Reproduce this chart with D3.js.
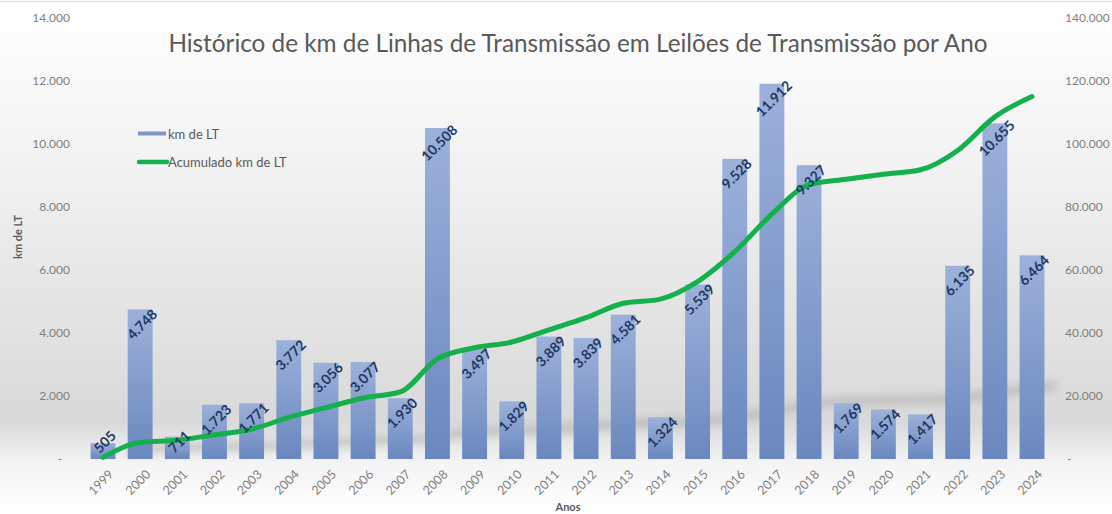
<!DOCTYPE html>
<html>
<head>
<meta charset="utf-8">
<script src="https://d3js.org/d3.v7.min.js"></script>
<style>
  body { margin: 0; background: #fff; }
  svg text { font-family: Lato, "Open Sans", sans-serif; }
</style>
</head>
<body>
<div id="chart"></div>
<script>
// data
var anos = ["1999","2000","2001","2002","2003","2004","2005","2006","2007","2008","2009","2010","2011","2012","2013","2014","2015","2016","2017","2018","2019","2020","2021","2022","2023","2024"];
var kmLT = [505, 4748, 711, 1723, 1771, 3772, 3056, 3077, 1930, 10508, 3497, 1829, 3889, 3839, 4581, 1324, 5539, 9528, 11912, 9327, 1769, 1574, 1417, 6135, 10655, 6464];
var acumulado = [505, 5253, 5964, 7687, 9458, 13230, 16286, 19363, 21293, 31801, 35298, 37127, 41016, 44855, 49436, 50760, 56299, 65827, 77739, 87066, 88835, 90409, 91826, 97961, 108616, 115080];
var ticksEsq = [0, 2000, 4000, 6000, 8000, 10000, 12000, 14000];
var ticksDir = [0, 20000, 40000, 60000, 80000, 100000, 120000, 140000];

var W = 1112, H = 514;
var x0 = 84.4, x1 = 1050.6, yBase = 459, yTop = 18;

var br = d3.formatLocale({decimal: ",", thousands: ".", grouping: [3], currency: ["R$", ""]});
var fmt = br.format(",d");
function tickFmt(d) { return d === 0 ? "-" : fmt(d); }

var svg = d3.select("#chart").append("svg")
    .attr("width", W).attr("height", H);

var defs = svg.append("defs");
var bg = defs.append("linearGradient").attr("id", "bg")
    .attr("x1", 0).attr("y1", 0).attr("x2", 0).attr("y2", 1);
bg.append("stop").attr("offset", "0%").attr("stop-color", "#ffffff");
bg.append("stop").attr("offset", "30%").attr("stop-color", "#f3f3f3");
bg.append("stop").attr("offset", "82%").attr("stop-color", "#d9d9d9");
bg.append("stop").attr("offset", "90%").attr("stop-color", "#f4f4f4");
bg.append("stop").attr("offset", "100%").attr("stop-color", "#ffffff");

var barGrad = defs.append("linearGradient").attr("id", "barGrad")
    .attr("x1", 0).attr("y1", 0).attr("x2", 0).attr("y2", 1);
barGrad.append("stop").attr("offset", "0%").attr("stop-color", "#9cb1da");
barGrad.append("stop").attr("offset", "100%").attr("stop-color", "#6a87bf");

defs.append("filter").attr("id", "blur")
    .attr("x", "-20%").attr("y", "-50%").attr("width", "140%").attr("height", "200%")
  .append("feGaussianBlur").attr("stdDeviation", 4);

svg.append("rect").attr("width", W).attr("height", H).attr("fill", "url(#bg)");
svg.append("line").attr("x1", 0).attr("x2", W).attr("y1", 1.5).attr("y2", 1.5)
    .attr("stroke", "#d9d9d9");

var x = d3.scaleBand().domain(anos).range([x0, x1]).paddingInner(0.33).paddingOuter(0.165);
var y = d3.scaleLinear().domain([0, 14000]).range([yBase, yTop]);
var y2 = d3.scaleLinear().domain([0, 140000]).range([yBase, yTop]);

// title
svg.append("text")
    .attr("x", 578).attr("y", 52)
    .attr("text-anchor", "middle")
    .attr("font-size", 24.3)
    .attr("fill", "#595959")
    .text("Histórico de km de Linhas de Transmissão em Leilões de Transmissão por Ano");

// left axis
var gL = svg.append("g").attr("transform", "translate(74,0)")
    .call(d3.axisLeft(y).tickValues(ticksEsq).tickFormat(tickFmt).tickSize(0).tickPadding(4));
gL.select(".domain").remove();
gL.selectAll("text").attr("font-size", 12).attr("fill", "#7f7f7f")
    .attr("dx", function(d) { return d === 0 ? -8 : 0; });

// right axis
var gR = svg.append("g").attr("transform", "translate(1061,0)")
    .call(d3.axisRight(y2).tickValues(ticksDir).tickFormat(tickFmt).tickSize(0).tickPadding(4));
gR.select(".domain").remove();
gR.selectAll("text").attr("font-size", 12).attr("fill", "#7f7f7f")
    .attr("dx", function(d) { return d === 0 ? 2 : 0; });

// line shadow
var linha = d3.line()
    .x(function(d, i) { return x(anos[i]) + x.bandwidth() / 2; })
    .y(function(d) { return y2(d); })
    .curve(d3.curveMonotoneX);

svg.append("path")
    .datum(acumulado)
    .attr("d", d3.line()
        .x(function(d, i) { return x(anos[i]) + x.bandwidth() / 2 + 25; })
        .y(function(d) { return yBase - (yBase - y2(d)) * 0.18 - 8; })
        .curve(d3.curveMonotoneX))
    .attr("fill", "none")
    .attr("stroke", "#8c8c8c")
    .attr("stroke-width", 8)
    .attr("opacity", 0.4)
    .attr("filter", "url(#blur)");

// bars
svg.selectAll(".bar")
    .data(kmLT)
    .enter().append("rect")
    .attr("class", "bar")
    .attr("x", function(d, i) { return x(anos[i]); })
    .attr("y", function(d) { return y(d); })
    .attr("width", x.bandwidth())
    .attr("height", function(d) { return yBase - y(d); })
    .attr("fill", "url(#barGrad)");

// cumulative line
svg.append("path")
    .datum(acumulado)
    .attr("d", linha)
    .attr("fill", "none")
    .attr("stroke", "#13b04b")
    .attr("stroke-width", 5)
    .attr("stroke-linecap", "round");

// bar labels
svg.selectAll(".lbl")
    .data(kmLT)
    .enter().append("text")
    .attr("class", "lbl")
    .attr("transform", function(d, i) {
        var cx = x(anos[i]) + x.bandwidth() / 2 + 2;
        var cy = Math.min(y(d) + 15, yBase - 17);
        return "translate(" + cx + "," + cy + ") rotate(-45)";
    })
    .attr("text-anchor", "middle")
    .attr("dy", "0.35em")
    .attr("font-size", 14)
    .attr("font-weight", "bold")
    .attr("fill", "#1f3864")
    .text(function(d) { return fmt(d); });

// x tick labels
svg.selectAll(".xt")
    .data(anos)
    .enter().append("text")
    .attr("class", "xt")
    .attr("transform", function(d) {
        return "translate(" + (x(d) + x.bandwidth() / 2 + 5) + ",469) rotate(-45)";
    })
    .attr("text-anchor", "end")
    .attr("dy", "0.7em")
    .attr("font-size", 12.5)
    .attr("fill", "#7f7f7f")
    .text(function(d) { return d; });

// axis titles
svg.append("text")
    .attr("x", 568).attr("y", 511)
    .attr("text-anchor", "middle")
    .attr("font-size", 11).attr("font-weight", "bold").attr("fill", "#595959")
    .text("Anos");
svg.append("text")
    .attr("transform", "translate(22,237) rotate(-90)")
    .attr("text-anchor", "middle")
    .attr("font-size", 11).attr("font-weight", "bold").attr("fill", "#595959")
    .text("km de LT");

// legend
var leg = svg.append("g");
leg.append("rect").attr("x", 138).attr("y", 131.5).attr("width", 28).attr("height", 4)
    .attr("fill", "#7d97c9");
leg.append("text").attr("x", 168).attr("y", 134).attr("dy", "0.35em")
    .attr("font-size", 13).attr("fill", "#595959").text("km de LT");
leg.append("line").attr("x1", 139).attr("x2", 167).attr("y1", 162).attr("y2", 162)
    .attr("stroke", "#13b04b").attr("stroke-width", 4.5).attr("stroke-linecap", "round");
leg.append("text").attr("x", 168).attr("y", 162).attr("dy", "0.35em")
    .attr("font-size", 13).attr("fill", "#595959").text("Acumulado km de LT");
</script>
</body>
</html>
